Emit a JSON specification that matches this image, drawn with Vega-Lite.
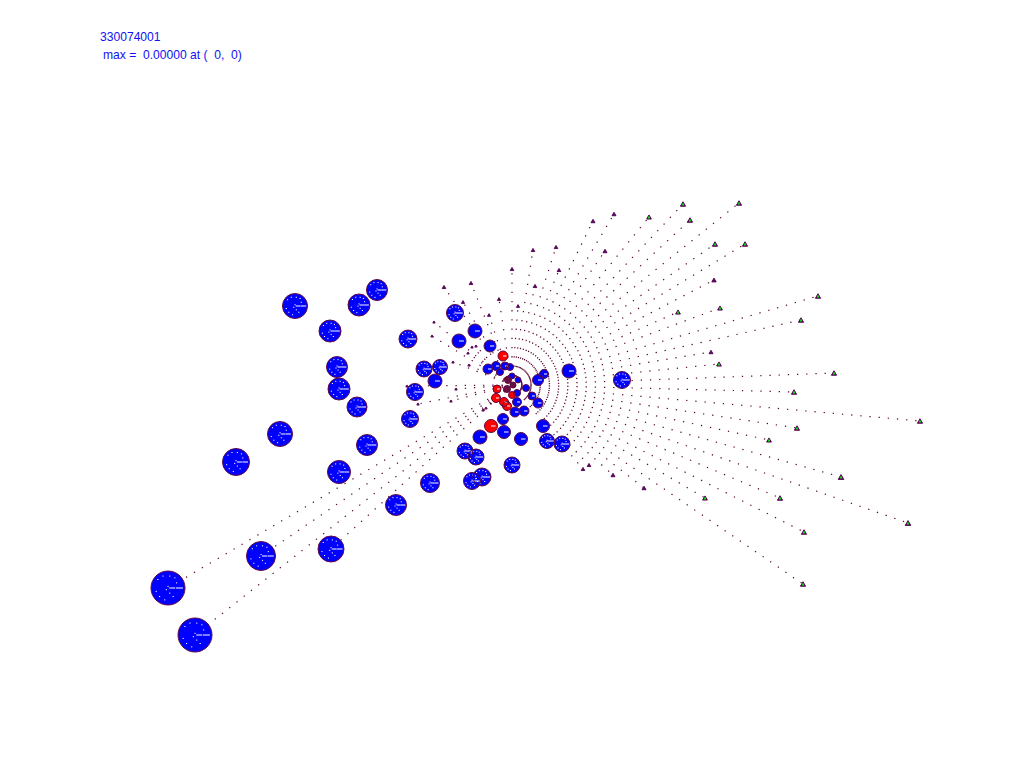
{"$schema":"https://vega.github.io/schema/vega-lite/v6.json","width":1024,"height":768,"autosize":"none","padding":0,"background":"white","view":{"stroke":null},
"datasets":{"sources":[
{"u0":0,"v0":0,"u":-344,"v":-203,"r":17,"kind":"blue"},{"u0":0,"v0":0,"u":-317,"v":-250,"r":17,"kind":"blue"},{"u0":0,"v0":0,"u":-251,"v":-171,"r":14.5,"kind":"blue"},{"u0":0,"v0":0,"u":-181,"v":-164,"r":13,"kind":"blue"},{"u0":0,"v0":0,"u":-276,"v":-77,"r":13.5,"kind":"blue"},{"u0":0,"v0":0,"u":-232,"v":-49,"r":12.5,"kind":"blue"},{"u0":0,"v0":0,"u":-173,"v":-87,"r":11.5,"kind":"blue"},{"u0":0,"v0":0,"u":-116,"v":-120,"r":10.5,"kind":"blue"},{"u0":0,"v0":0,"u":-82,"v":-98,"r":9.5,"kind":"blue"},{"u0":0,"v0":0,"u":-145,"v":-60,"r":10.5,"kind":"blue"},{"u0":0,"v0":0,"u":-155,"v":-22,"r":10,"kind":"blue"},{"u0":0,"v0":0,"u":-173,"v":-4,"r":11,"kind":"blue"},{"u0":0,"v0":0,"u":-175,"v":18,"r":10.5,"kind":"blue"},{"u0":0,"v0":0,"u":-182,"v":54,"r":11,"kind":"blue"},{"u0":0,"v0":0,"u":-217,"v":79,"r":12.5,"kind":"blue"},{"u0":0,"v0":0,"u":-153,"v":80,"r":11,"kind":"blue"},{"u0":0,"v0":0,"u":-135,"v":95,"r":10.5,"kind":"blue"},{"u0":0,"v0":0,"u":-104,"v":46,"r":9,"kind":"blue"},{"u0":0,"v0":0,"u":-57,"v":72,"r":8.5,"kind":"blue"},{"u0":0,"v0":0,"u":-37,"v":54,"r":7,"kind":"blue"},{"u0":0,"v0":0,"u":-53,"v":44,"r":7,"kind":"blue"},{"u0":0,"v0":0,"u":-22,"v":39,"r":6,"kind":"blue"},{"u0":0,"v0":0,"u":-88,"v":16,"r":8,"kind":"blue"},{"u0":0,"v0":0,"u":-72,"v":18,"r":7.5,"kind":"blue"},{"u0":0,"v0":0,"u":-77,"v":4,"r":7,"kind":"blue"},{"u0":0,"v0":0,"u":-97,"v":-7,"r":8.5,"kind":"blue"},{"u0":0,"v0":0,"u":-102,"v":-34,"r":8.5,"kind":"blue"},{"u0":0,"v0":0,"u":-47,"v":-66,"r":8,"kind":"blue"},{"u0":0,"v0":0,"u":-36,"v":-72,"r":8,"kind":"blue"},{"u0":0,"v0":0,"u":-32,"v":-52,"r":7,"kind":"blue"},{"u0":0,"v0":0,"u":-40,"v":-96,"r":8.5,"kind":"blue"},{"u0":0,"v0":0,"u":-30,"v":-92,"r":9,"kind":"blue"},{"u0":0,"v0":0,"u":0,"v":-80,"r":8,"kind":"blue"},{"u0":0,"v0":0,"u":-8,"v":-47,"r":6.5,"kind":"blue"},{"u0":0,"v0":0,"u":9,"v":-54,"r":6.5,"kind":"blue"},{"u0":0,"v0":0,"u":35,"v":-56,"r":7.5,"kind":"blue"},{"u0":0,"v0":0,"u":50,"v":-59,"r":8,"kind":"blue"},{"u0":0,"v0":0,"u":31,"v":-41,"r":6.5,"kind":"blue"},{"u0":0,"v0":0,"u":57,"v":14,"r":7,"kind":"blue"},{"u0":0,"v0":0,"u":110,"v":5,"r":8.5,"kind":"blue"},{"u0":0,"v0":0,"u":-9,"v":-34,"r":5.5,"kind":"blue"},{"u0":0,"v0":0,"u":3,"v":-27,"r":5,"kind":"blue"},{"u0":0,"v0":0,"u":12,"v":-26,"r":5,"kind":"blue"},{"u0":0,"v0":0,"u":26,"v":-18,"r":5,"kind":"blue"},{"u0":0,"v0":0,"u":20,"v":-11,"r":4,"kind":"blue"},{"u0":0,"v0":0,"u":14,"v":-3,"r":3.5,"kind":"blue"},{"u0":0,"v0":0,"u":5,"v":-17,"r":4.5,"kind":"blue"},{"u0":0,"v0":0,"u":5,"v":-8,"r":3.5,"kind":"blue"},{"u0":0,"v0":0,"u":26,"v":5,"r":5.5,"kind":"blue"},{"u0":0,"v0":0,"u":32,"v":11,"r":4.5,"kind":"blue"},{"u0":0,"v0":0,"u":-24,"v":16,"r":5,"kind":"blue"},{"u0":0,"v0":0,"u":-16,"v":19,"r":4.5,"kind":"blue"},{"u0":0,"v0":0,"u":-7,"v":19,"r":4,"kind":"blue"},{"u0":0,"v0":0,"u":-2,"v":18,"r":3.5,"kind":"blue"},{"u0":0,"v0":0,"u":-12,"v":13,"r":3.5,"kind":"blue"},{"u0":0,"v0":0,"u":0,"v":9,"r":3,"kind":"blue"},{"u0":0,"v0":0,"u":6,"v":5,"r":3,"kind":"blue"},
{"u0":0,"v0":0,"u":-9,"v":29,"r":5,"kind":"red"},{"u0":0,"v0":0,"u":-21,"v":-41,"r":6.5,"kind":"red"},{"u0":0,"v0":0,"u":-16,"v":-13,"r":4.5,"kind":"red"},{"u0":0,"v0":0,"u":-15,"v":-4,"r":4,"kind":"red"},{"u0":0,"v0":0,"u":-8,"v":-17,"r":4.5,"kind":"red"},{"u0":0,"v0":0,"u":-5,"v":-21,"r":4.5,"kind":"red"},{"u0":0,"v0":0,"u":0,"v":-10,"r":3.5,"kind":"red"},
{"u0":0,"v0":0,"u":-4,"v":5,"r":3.5,"kind":"dark"},{"u0":0,"v0":0,"u":1,"v":0,"r":3,"kind":"dark"},{"u0":0,"v0":0,"u":-5,"v":-4,"r":3.5,"kind":"dark"},
{"u0":0,"v0":0,"u":171,"v":181,"r":2.6,"kind":"tri"},{"u0":0,"v0":0,"u":178,"v":165,"r":2.6,"kind":"tri"},{"u0":0,"v0":0,"u":203,"v":141,"r":2.6,"kind":"tri"},{"u0":0,"v0":0,"u":306,"v":89,"r":2.6,"kind":"tri"},{"u0":0,"v0":0,"u":289,"v":65,"r":2.6,"kind":"tri"},{"u0":0,"v0":0,"u":285,"v":-43,"r":2.6,"kind":"tri"},{"u0":0,"v0":0,"u":329,"v":-92,"r":2.8,"kind":"tri"},{"u0":0,"v0":0,"u":396,"v":-138,"r":2.8,"kind":"tri"},{"u0":0,"v0":0,"u":292,"v":-147,"r":2.6,"kind":"tri"},
{"u0":0,"v0":0,"u":227,"v":182,"r":2.6,"kind":"tri"},{"u0":0,"v0":0,"u":233,"v":141,"r":2.6,"kind":"tri"},{"u0":0,"v0":0,"u":137,"v":168,"r":2.4,"kind":"tri"},{"u0":0,"v0":0,"u":102,"v":171,"r":2,"kind":"tri"},{"u0":0,"v0":0,"u":81,"v":164,"r":2,"kind":"tri"},{"u0":0,"v0":0,"u":44,"v":138,"r":1.8,"kind":"tri"},{"u0":0,"v0":0,"u":21,"v":135,"r":1.8,"kind":"tri"},{"u0":0,"v0":0,"u":93,"v":134,"r":2,"kind":"tri"},{"u0":0,"v0":0,"u":47,"v":115,"r":1.8,"kind":"tri"},{"u0":0,"v0":0,"u":0,"v":116,"r":1.8,"kind":"tri"},{"u0":0,"v0":0,"u":23,"v":99,"r":1.8,"kind":"tri"},{"u0":0,"v0":0,"u":-13,"v":86,"r":1.6,"kind":"tri"},{"u0":0,"v0":0,"u":-41,"v":102,"r":1.8,"kind":"tri"},{"u0":0,"v0":0,"u":-68,"v":98,"r":1.8,"kind":"tri"},{"u0":0,"v0":0,"u":-49,"v":83,"r":1.6,"kind":"tri"},{"u0":0,"v0":0,"u":-23,"v":70,"r":1.5,"kind":"tri"},{"u0":0,"v0":0,"u":6,"v":79,"r":1.6,"kind":"tri"},{"u0":0,"v0":0,"u":202,"v":105,"r":2.2,"kind":"tri"},{"u0":0,"v0":0,"u":166,"v":73,"r":2.4,"kind":"tri"},{"u0":0,"v0":0,"u":208,"v":77,"r":2.4,"kind":"tri"},{"u0":0,"v0":0,"u":199,"v":33,"r":2,"kind":"tri"},{"u0":0,"v0":0,"u":207,"v":21,"r":2.4,"kind":"tri"},{"u0":0,"v0":0,"u":322,"v":12,"r":2.6,"kind":"tri"},{"u0":0,"v0":0,"u":282,"v":-7,"r":2.6,"kind":"tri"},{"u0":0,"v0":0,"u":408,"v":-36,"r":2.6,"kind":"tri"},{"u0":0,"v0":0,"u":257,"v":-55,"r":2.4,"kind":"tri"},{"u0":0,"v0":0,"u":268,"v":-113,"r":2.6,"kind":"tri"},{"u0":0,"v0":0,"u":193,"v":-113,"r":2.4,"kind":"tri"},{"u0":0,"v0":0,"u":132,"v":-103,"r":2,"kind":"tri"},{"u0":0,"v0":0,"u":101,"v":-90,"r":2,"kind":"tri"},{"u0":0,"v0":0,"u":77,"v":-80,"r":1.8,"kind":"tri"},{"u0":0,"v0":0,"u":71,"v":-84,"r":1.8,"kind":"tri"},{"u0":0,"v0":0,"u":291,"v":-199,"r":2.6,"kind":"tri"},
{"u0":0,"v0":0,"u":-36,"v":39,"r":1.2,"kind":"tri"},{"u0":0,"v0":0,"u":-40,"v":38,"r":1.2,"kind":"tri"},{"u0":0,"v0":0,"u":-44,"v":32,"r":1.2,"kind":"tri"},{"u0":0,"v0":0,"u":-59,"v":23,"r":1.2,"kind":"tri"},{"u0":0,"v0":0,"u":-43,"v":20,"r":1.2,"kind":"tri"},{"u0":0,"v0":0,"u":-56,"v":-4,"r":1.2,"kind":"tri"},{"u0":0,"v0":0,"u":-61,"v":-16,"r":1.2,"kind":"tri"},{"u0":0,"v0":0,"u":-26,"v":-23,"r":1.2,"kind":"tri"},{"u0":0,"v0":0,"u":-29,"v":-25,"r":1.2,"kind":"tri"},{"u0":0,"v0":0,"u":-78,"v":63,"r":1.2,"kind":"tri"},{"u0":0,"v0":0,"u":-80,"v":49,"r":1.2,"kind":"tri"},{"u0":0,"v0":0,"u":-105,"v":-1,"r":1.2,"kind":"tri"},{"u0":0,"v0":0,"u":-94,"v":-19,"r":1.2,"kind":"tri"}
],
"labels":[{"u":-412,"v":348,"label":"330074001"},{"u":-409,"v":330,"label":"max =\u00a0 0.00000 at (\u00a0 0,\u00a0 0)"}]},
"data":{"name":"sources"},
"encoding":{"x":{"field":"u","type":"quantitative","axis":null,"scale":{"domain":[-512,512],"nice":false,"zero":false}},"y":{"field":"v","type":"quantitative","axis":null,"scale":{"domain":[-383,385],"nice":false,"zero":false}}},
"layer":[
{"transform":[{"filter":"datum.kind==='tri'||datum.v<-160"}],
"mark":{"type":"rule","stroke":"#5a0a35","strokeWidth":1.2,"strokeDash":[1.3,7.9]},
"encoding":{"x":{"field":"u0","type":"quantitative","axis":null,"scale":{"domain":[-512,512],"nice":false,"zero":false}},"y":{"field":"v0","type":"quantitative","axis":null,"scale":{"domain":[-383,385],"nice":false,"zero":false}},"x2":{"field":"u"},"y2":{"field":"v"}}},
{"transform":[{"filter":"datum.kind!=='tri'"}],
"mark":{"type":"point","shape":"circle","filled":true,"strokeWidth":0,"fillOpacity":1,"opacity":1},
"encoding":{
"size":{"field":"r","type":"quantitative","legend":null,"scale":{"type":"pow","exponent":2,"domain":[0,20],"range":[0,1600]}},
"fill":{"field":"kind","type":"nominal","legend":null,"scale":{"domain":["blue","red","dark"],"range":["#0000ff","#ff0000","#6b0f3f"]}}}},
{"transform":[{"filter":"datum.kind==='blue'&&datum.r>=7.5"}],
"mark":{"type":"point","shape":"M.1,0H.4M.5,0H.85M-.6,-.5h.01M-.3,-.7h.01M.1,-.7h.01M.4,-.6h.01M.5,-.3h.01M-.7,.2h.01M-.5,.5h.01M-.2,.7h.01M.3,.5h.01M0,-.1h.01M-.1,.1h.01M.1,.3h.01","filled":false,"stroke":"#ffffff","strokeWidth":1,"strokeCap":"square","opacity":1},
"encoding":{
"size":{"field":"r","type":"quantitative","legend":null,"scale":{"type":"pow","exponent":2,"domain":[0,20],"range":[0,1600]}}}},
{"transform":[{"filter":"(datum.kind==='blue'||datum.kind==='red')&&datum.r>=4&&datum.r<7.5"}],
"mark":{"type":"point","shape":"M0,0H.7","filled":false,"stroke":"#ffffff","strokeWidth":1,"opacity":1},
"encoding":{
"size":{"field":"r","type":"quantitative","legend":null,"scale":{"type":"pow","exponent":2,"domain":[0,20],"range":[0,1600]}}}},
{"transform":[{"filter":"datum.kind!=='tri'"}],
"mark":{"type":"point","shape":"circle","filled":false,"stroke":"#600a40","strokeWidth":1,"opacity":1},
"encoding":{
"size":{"field":"r","type":"quantitative","legend":null,"scale":{"type":"pow","exponent":2,"domain":[0,20],"range":[0,1600]}}}},
{"transform":[{"filter":"datum.kind==='tri'"}],
"mark":{"type":"point","shape":"triangle-up","filled":true,"fill":"#5a0a5a","stroke":"#5a0a5a","strokeWidth":1,"fillOpacity":1,"opacity":1},
"encoding":{
"size":{"field":"r","type":"quantitative","legend":null,"scale":{"type":"pow","exponent":2,"domain":[0,20],"range":[0,1600]}}}},
{"transform":[{"filter":"datum.kind==='tri'&&datum.r>=2.4"}],
"mark":{"type":"point","shape":"square","filled":true,"fill":"#00e000","stroke":null,"strokeWidth":0,"size":4,"fillOpacity":1,"opacity":1,"yOffset":0.5}},
{"data":{"name":"labels"},
"mark":{"type":"text","align":"left","baseline":"middle","font":"Liberation Sans","fontSize":12.1,"color":"#1010f5"},
"encoding":{"text":{"field":"label"}}}
]}
